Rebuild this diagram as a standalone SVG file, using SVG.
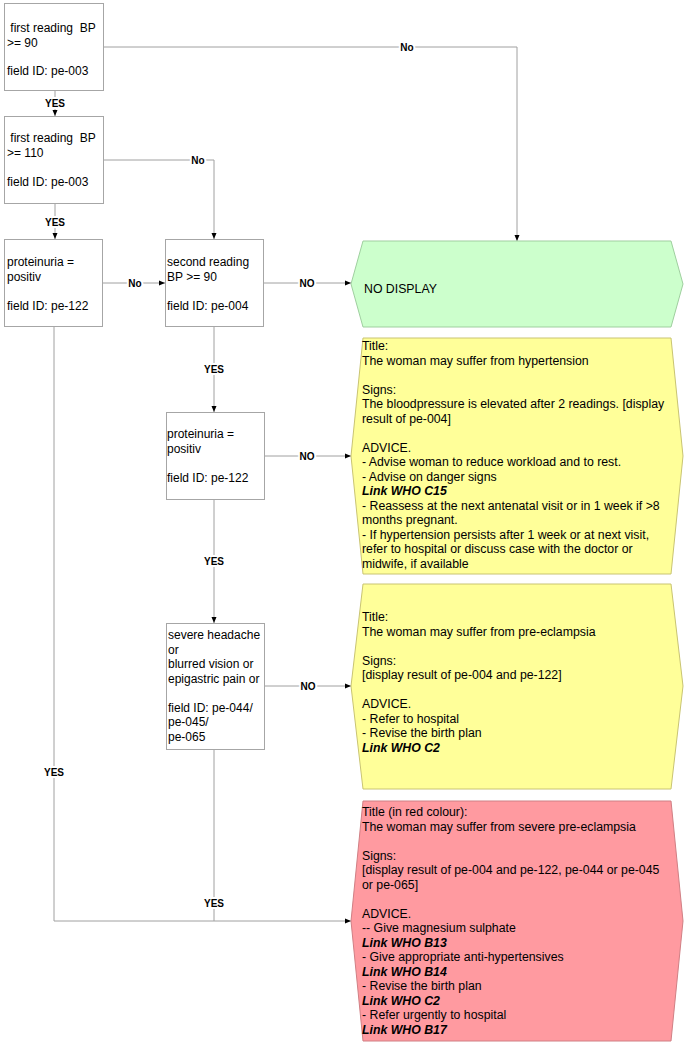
<svg xmlns="http://www.w3.org/2000/svg" width="685" height="1048" viewBox="0 0 685 1048">
<defs>
<marker id="arr" markerUnits="userSpaceOnUse" markerWidth="6" markerHeight="6" viewBox="0 0 6 6" refX="6" refY="3" orient="auto">
<path d="M0,0.5 L6,3 L0,5.5 Z" fill="#000"/>
</marker>
<style>
.box{fill:#fff;stroke:#a6a6a6;stroke-width:1}
.t{font-family:"Liberation Sans",Arial,sans-serif;font-size:12px;fill:#000}
.c{font-size:12.3px}
.bi{font-weight:bold;font-style:italic}
.ln{fill:none;stroke:#a0a0a0;stroke-width:1}
.ar{marker-end:url(#arr)}
.lb{font-family:"Liberation Sans",Arial,sans-serif;font-size:10px;font-weight:bold;fill:#000;text-anchor:middle;stroke:#fff;stroke-width:4px;paint-order:stroke;stroke-linejoin:round}
.green{fill:#ccffcc;stroke:#9fcf9f}
.yellow{fill:#ffff99;stroke:#c9c472}
.red{fill:#ff9aa0;stroke:#d07f84}
</style>
</defs>
<rect width="685" height="1048" fill="#fff"/>

<g id="connectors">
<path class="ln ar" d="M104,47 H517 V241"/>
<path class="ln ar" d="M55,91 V116"/>
<path class="ln ar" d="M104,160 H214 V239"/>
<path class="ln ar" d="M55,204 V239"/>
<path class="ln ar" d="M103,283 H165"/>
<path class="ln ar" d="M263,283 H351"/>
<path class="ln ar" d="M214,327 V412"/>
<path class="ln ar" d="M264,456 H351"/>
<path class="ln ar" d="M214,500 V623"/>
<path class="ln ar" d="M264,686 H351"/>
<path class="ln ar" d="M214,749 V921 H351"/>
<path class="ln" d="M54,327 V921 H214"/>
<text class="lb" x="407" y="50.5">No</text>
<text class="lb" x="55" y="106.5">YES</text>
<text class="lb" x="198" y="163.5">No</text>
<text class="lb" x="55" y="225.5">YES</text>
<text class="lb" x="135" y="286.5">No</text>
<text class="lb" x="307" y="286.5">NO</text>
<text class="lb" x="214" y="372.5">YES</text>
<text class="lb" x="307" y="459.5">NO</text>
<text class="lb" x="214" y="564.5">YES</text>
<text class="lb" x="308" y="689.5">NO</text>
<text class="lb" x="54" y="775.5">YES</text>
<text class="lb" x="214" y="906.5">YES</text>
</g>

<g id="n1">
<rect class="box" x="4.5" y="3.5" width="99" height="87"/>
<text class="t" x="7" y="32" xml:space="preserve"> first reading  BP</text>
<text class="t" x="7" y="46.5">&gt;= 90</text>
<text class="t" x="7" y="75">field ID: pe-003</text>
</g>

<g id="n2">
<rect class="box" x="4.5" y="116.5" width="99" height="87"/>
<text class="t" x="7" y="142" xml:space="preserve"> first reading  BP</text>
<text class="t" x="7" y="156.5">&gt;= 110</text>
<text class="t" x="7" y="186">field ID: pe-003</text>
</g>

<g id="n3">
<rect class="box" x="4.5" y="239.5" width="98" height="87"/>
<text class="t" x="7" y="266">proteinuria =</text>
<text class="t" x="7" y="280.5">positiv</text>
<text class="t" x="7" y="309.5">field ID: pe-122</text>
</g>

<g id="n4">
<rect class="box" x="165.5" y="239.5" width="98" height="87"/>
<text class="t" x="167" y="266">second reading</text>
<text class="t" x="167" y="280.5">BP &gt;= 90</text>
<text class="t" x="167" y="309.5">field ID: pe-004</text>
</g>

<g id="n5">
<rect class="box" x="166.5" y="412.5" width="98" height="87"/>
<text class="t" x="167" y="438">proteinuria =</text>
<text class="t" x="167" y="452.5">positiv</text>
<text class="t" x="167" y="481.5">field ID: pe-122</text>
</g>

<g id="n6">
<rect class="box" x="166.5" y="623.5" width="98" height="126"/>
<text class="t" x="168" y="639">severe headache</text>
<text class="t" x="168" y="653.5">or</text>
<text class="t" x="168" y="668">blurred vision or</text>
<text class="t" x="168" y="682.5">epigastric pain or</text>
<text class="t" x="168" y="711.5">field ID: pe-044/</text>
<text class="t" x="168" y="726">pe-045/</text>
<text class="t" x="168" y="740.5">pe-065</text>
</g>

<g id="noDisplay">
<path class="green" d="M351,284 L363,241 L671,241 L683,284 L671,327 L363,327 Z"/>
<text class="t c" x="364" y="293">NO DISPLAY</text>
</g>

<g id="hypertension">
<path class="yellow" d="M351,456 L363,338 L671,338 L683,456 L671,574 L363,574 Z"/>
<text class="t c" x="362" y="350">Title:</text>
<text class="t c" x="362" y="364.5">The woman may suffer from hypertension</text>
<text class="t c" x="362" y="393.5">Signs:</text>
<text class="t c" x="362" y="408">The bloodpressure is elevated after 2 readings. [display</text>
<text class="t c" x="362" y="422.5">result of pe-004]</text>
<text class="t c" x="362" y="451.5">ADVICE.</text>
<text class="t c" x="362" y="466">- Advise woman to reduce workload and to rest.</text>
<text class="t c" x="362" y="480.5">- Advise on danger signs</text>
<text class="t c bi" x="362" y="495">Link WHO C15</text>
<text class="t c" x="362" y="509.5">- Reassess at the next antenatal visit or in 1 week if &gt;8</text>
<text class="t c" x="362" y="524">months pregnant.</text>
<text class="t c" x="362" y="538.5">- If hypertension persists after 1 week or at next visit,</text>
<text class="t c" x="362" y="553">refer to hospital or discuss case with the doctor or</text>
<text class="t c" x="362" y="567.5">midwife, if available</text>
</g>

<g id="preEclampsia">
<path class="yellow" d="M351,686 L363,584 L671,584 L683,686 L671,789 L363,789 Z"/>
<text class="t c" x="362" y="621">Title:</text>
<text class="t c" x="362" y="635.5">The woman may suffer from pre-eclampsia</text>
<text class="t c" x="362" y="664.5">Signs:</text>
<text class="t c" x="362" y="679">[display result of pe-004 and pe-122]</text>
<text class="t c" x="362" y="708">ADVICE.</text>
<text class="t c" x="362" y="722.5">- Refer to hospital</text>
<text class="t c" x="362" y="737">- Revise the birth plan</text>
<text class="t c bi" x="362" y="751.5">Link WHO C2</text>
</g>

<g id="severePreEclampsia">
<path class="red" d="M351,921 L363,801 L671,801 L683,921 L671,1041 L363,1041 Z"/>
<text class="t c" x="362" y="816">Title (in red colour):</text>
<text class="t c" x="362" y="830.5">The woman may suffer from severe pre-eclampsia</text>
<text class="t c" x="362" y="859.5">Signs:</text>
<text class="t c" x="362" y="874">[display result of pe-004 and pe-122, pe-044 or pe-045</text>
<text class="t c" x="362" y="888.5">or pe-065]</text>
<text class="t c" x="362" y="917.5">ADVICE.</text>
<text class="t c" x="362" y="932">-- Give magnesium sulphate</text>
<text class="t c bi" x="362" y="946.5">Link WHO B13</text>
<text class="t c" x="362" y="961">- Give appropriate anti-hypertensives</text>
<text class="t c bi" x="362" y="975.5">Link WHO B14</text>
<text class="t c" x="362" y="990">- Revise the birth plan</text>
<text class="t c bi" x="362" y="1004.5">Link WHO C2</text>
<text class="t c" x="362" y="1019">- Refer urgently to hospital</text>
<text class="t c bi" x="362" y="1033.5">Link WHO B17</text>
</g>
</svg>
